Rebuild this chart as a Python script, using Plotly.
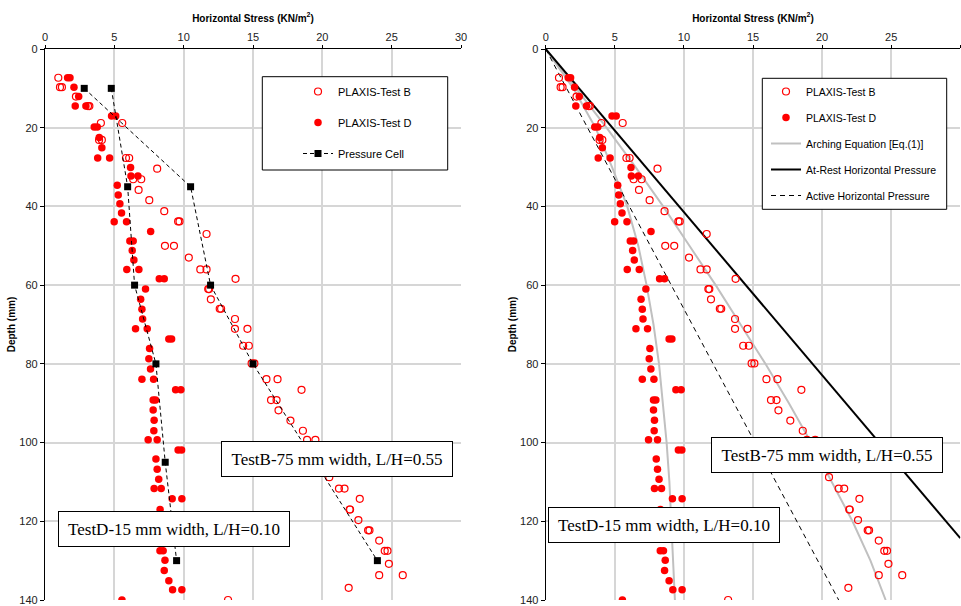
import plotly.graph_objects as go

# ---------------- data ----------------
# PLAXIS Test B (open circles): horizontal stress (kN/m2) vs depth (mm)
testB_stress = [0.96, 1.08, 1.22, 2.23, 3.1, 3.2, 4.03, 5.57, 3.9, 4.1, 5.84, 6.07, 8.09, 6.36, 6.94,
                6.75, 7.52, 8.6, 9.6, 9.7, 11.65, 8.65, 9.3, 10.37, 11.2, 11.65, 13.74, 11.77, 11.84,
                11.96, 12.6, 12.7, 13.7, 13.7, 14.6, 14.29, 14.7, 14.9, 15.1, 15.97, 16.77, 18.5,
                16.3, 16.7, 16.84, 17.7, 18.6, 18.9, 19.5, 20.5, 21.2, 21.6, 22.7, 21.97, 22.0,
                22.6, 23.3, 23.4, 24.1, 24.5, 24.7, 24.8, 24.1, 25.8, 21.9, 13.2]
testB_depth = [7.3, 9.7, 9.7, 12.1, 14.5, 14.5, 18.8, 18.8, 23.1, 23.1, 27.7, 27.7, 30.4, 33.1, 33.1,
               35.8, 38.4, 41.2, 43.8, 43.8, 47.0, 50.0, 50.0, 53.0, 56.0, 56.0, 58.4, 61.0, 61.0,
               63.6, 66.0, 66.0, 68.6, 71.1, 71.1, 75.4, 75.4, 79.9, 79.9, 83.9, 83.9, 86.6,
               89.2, 89.2, 91.8, 94.4, 97.0, 99.3, 99.3, 108.8, 111.7, 111.7, 114.3, 117.0, 117.0,
               119.7, 122.3, 122.3, 124.9, 127.5, 127.5, 130.8, 133.7, 133.7, 136.9, 140.0]

# PLAXIS Test D (filled circles)
testD_stress = [1.63, 1.8, 2.09, 2.43, 2.18, 2.95, 4.8, 5.1, 3.55, 3.77, 3.91, 4.1, 3.8, 4.66, 6.17,
                6.2, 6.7, 5.21, 5.28, 5.4, 5.52, 4.99, 5.88, 7.62, 6.12, 6.36, 6.29, 6.41, 5.9, 6.77,
                8.24, 8.6, 7.25, 6.9, 6.99, 7.04, 6.53, 7.37, 8.93, 9.13, 7.54, 7.49, 7.61, 6.99,
                7.83, 9.42, 9.8, 7.8, 7.97, 7.8, 7.87, 7.85, 7.44, 8.09, 9.6, 9.85, 8.0, 8.09, 8.2,
                7.87, 8.38, 9.17, 9.87, 8.3, 8.29, 8.52, 8.65, 8.6, 8.93, 9.2, 9.87, 5.55]
testD_depth = [7.3, 7.3, 9.7, 12.1, 14.5, 14.5, 17.0, 17.0, 19.8, 19.8, 22.5, 25.1, 27.7, 27.7, 30.1,
               32.3, 32.3, 34.6, 37.1, 39.3, 41.7, 43.9, 43.9, 46.4, 48.8, 48.8, 51.2, 53.6, 56.0, 56.0,
               58.4, 58.4, 61.0, 63.6, 66.1, 68.6, 71.1, 71.1, 73.7, 73.7, 76.1, 78.7, 81.3, 83.9,
               83.9, 86.6, 86.6, 89.2, 89.2, 91.7, 94.3, 97.0, 99.3, 99.3, 101.9, 101.9, 104.2, 106.8, 109.3,
               111.7, 111.7, 114.3, 114.3, 117.0, 127.5, 127.5, 129.9, 132.5, 135.1, 137.4, 137.4, 140.0]

# Pressure cells
cellB_stress = [2.83, 10.5, 11.94, 15.0, 23.97]
cellB_depth = [10, 35, 60, 80, 130]
cellD_stress = [4.78, 5.96, 6.46, 8.0, 8.67, 9.49]
cellD_depth = [10, 35, 60, 80, 105, 130]

# Arching equation curves
arch_depth = [0, 10, 20, 30, 40, 50, 60, 70, 80, 90, 100, 110, 120, 130, 140]
archB_stress = [0, 2.2, 4.4, 6.5, 8.5, 10.4, 12.3, 14.1, 15.9, 17.6, 19.2, 20.7, 22.2, 23.5, 24.6]
archD_stress = [0, 2.0, 3.6, 4.8, 5.9, 6.7, 7.3, 7.8, 8.2, 8.5, 8.75, 8.95, 9.1, 9.25, 9.35]

# At-rest and active horizontal pressure lines
atrest_stress = [0, 30.0]
atrest_depth = [0, 124.3]
active_stress = [0, 21.2]
active_depth = [0, 140]

x_ticks = [0, 5, 10, 15, 20, 25, 30]
y_ticks = [0, 20, 40, 60, 80, 100, 120, 140]

x_title = "<b>Horizontal Stress (KN/m<sup>2</sup>)</b>"
y_title = "<b>Depth (mm)</b>"
boxB_text = "TestB-75 mm width, L/H=0.55"
boxD_text = "TestD-15 mm width, L/H=0.10"

# ---------------- figure ----------------
W, H = 961, 606
RED = "#ff0000"
SANS = "Liberation Sans, Arial, sans-serif"
SERIF = "Liberation Serif, Times New Roman, serif"


def px(p):
    return p / W


def py(p):
    return 1 - p / H


fig = go.Figure()

# ---- left panel ----
fig.add_trace(go.Scatter(x=testB_stress, y=testB_depth, mode="markers", name="PLAXIS-Test B",
                         marker=dict(symbol="circle-open", size=7, color=RED, line=dict(width=1.2)),
                         xaxis="x", yaxis="y", legend="legend", legendgroup="a1"))
fig.add_trace(go.Scatter(x=testD_stress, y=testD_depth, mode="markers", name="PLAXIS-Test D",
                         marker=dict(symbol="circle", size=7.5, color=RED),
                         xaxis="x", yaxis="y", legend="legend", legendgroup="a2"))
fig.add_trace(go.Scatter(x=cellB_stress, y=cellB_depth, mode="lines+markers", name="Pressure Cell",
                         line=dict(color="black", width=1, dash="4px,3px"),
                         marker=dict(symbol="square", size=7, color="black"),
                         xaxis="x", yaxis="y", legend="legend", legendgroup="a3"))
fig.add_trace(go.Scatter(x=cellD_stress, y=cellD_depth, mode="lines+markers", name="Pressure Cell",
                         line=dict(color="black", width=1, dash="4px,3px"),
                         marker=dict(symbol="square", size=7, color="black"),
                         xaxis="x", yaxis="y", showlegend=False, legendgroup="a3"))

# ---- right panel ----
fig.add_trace(go.Scatter(x=archB_stress, y=arch_depth, mode="lines", name="Arching Equation [Eq.(1)]",
                         line=dict(color="#c0c0c0", width=2), xaxis="x2", yaxis="y2",
                         legend="legend2", legendgroup="b3", legendrank=3))
fig.add_trace(go.Scatter(x=archD_stress, y=arch_depth, mode="lines", name="Arching Equation [Eq.(1)]",
                         line=dict(color="#c0c0c0", width=2), xaxis="x2", yaxis="y2",
                         showlegend=False, legendgroup="b3"))
fig.add_trace(go.Scatter(x=atrest_stress, y=atrest_depth, mode="lines", name="At-Rest Horizontal Pressure",
                         line=dict(color="black", width=2), xaxis="x2", yaxis="y2",
                         legend="legend2", legendgroup="b4", legendrank=4))
fig.add_trace(go.Scatter(x=active_stress, y=active_depth, mode="lines", name="Active Horizontal Pressure",
                         line=dict(color="black", width=1, dash="5px,4px"), xaxis="x2", yaxis="y2",
                         legend="legend2", legendgroup="b5", legendrank=5))
fig.add_trace(go.Scatter(x=testB_stress, y=testB_depth, mode="markers", name="PLAXIS-Test B",
                         marker=dict(symbol="circle-open", size=7, color=RED, line=dict(width=1.2)),
                         xaxis="x2", yaxis="y2", legend="legend2", legendgroup="b1", legendrank=1))
fig.add_trace(go.Scatter(x=testD_stress, y=testD_depth, mode="markers", name="PLAXIS-Test D",
                         marker=dict(symbol="circle", size=7.5, color=RED),
                         xaxis="x2", yaxis="y2", legend="legend2", legendgroup="b2", legendrank=2))

ydom = [py(600), py(49)]
xa_common = dict(range=[0, 30], tickvals=x_ticks, side="top", showgrid=True, gridcolor="#d6d6d6",
                 gridwidth=1.5, showline=True, linecolor="black", linewidth=1.2, ticks="outside",
                 ticklen=3, tickcolor="black", zeroline=False, automargin=False,
                 tickfont=dict(family=SANS, size=11, color="#222"),
                 title=dict(text=x_title, font=dict(family=SANS, size=10, color="black"), standoff=6))
ya_common = dict(range=[140, 0], tickvals=y_ticks, showgrid=True, gridcolor="#d6d6d6", gridwidth=1.5,
                 showline=True, linecolor="black", linewidth=1.2, ticks="outside", ticklen=4,
                 tickcolor="black", zeroline=False, domain=ydom, automargin=False,
                 tickfont=dict(family=SANS, size=11, color="#222"),
                 title=dict(text=y_title, font=dict(family=SANS, size=10, color="black"), standoff=1))

fig.update_layout(
    template="none",
    width=W, height=H, margin=dict(l=0, r=0, t=0, b=0, autoexpand=False),
    paper_bgcolor="white", plot_bgcolor="white",
    font=dict(family=SANS, size=11, color="black"),
    xaxis=dict(domain=[px(45), px(461)], anchor="y", **xa_common),
    yaxis=dict(anchor="x", **ya_common),
    xaxis2=dict(domain=[px(545.7), px(960.3)], anchor="y2", **xa_common),
    yaxis2=dict(anchor="x2", **ya_common),
    legend=dict(x=px(298), y=py(77), xanchor="left", yanchor="top", bgcolor="rgba(0,0,0,0)",
                borderwidth=0, font=dict(family=SANS, size=11, color="black"),
                tracegroupgap=12, traceorder="grouped"),
    legend2=dict(x=px(766), y=py(77), xanchor="left", yanchor="top", bgcolor="rgba(0,0,0,0)",
                 borderwidth=0, font=dict(family=SANS, size=10.5, color="black"),
                 tracegroupgap=7, traceorder="grouped"),
    showlegend=True,
)

# legend frames
fig.add_shape(type="rect", xref="paper", yref="paper", x0=px(262.3), x1=px(447.7), y0=py(170), y1=py(76.7),
              line=dict(color="black", width=1), fillcolor="white", layer="above")
fig.add_shape(type="rect", xref="paper", yref="paper", x0=px(762.3), x1=px(946.7), y0=py(209.3), y1=py(78.3),
              line=dict(color="black", width=1), fillcolor="white", layer="above")


# text boxes
def box(text, left, top):
    fig.add_annotation(text=text, xref="paper", yref="paper", x=px(left), y=py(top),
                       xanchor="left", yanchor="top", showarrow=False, width=230, height=34,
                       bordercolor="black", borderwidth=1, borderpad=0, bgcolor="white",
                       font=dict(family=SERIF, size=17, color="black"), align="center", valign="middle")


box(boxB_text, 221, 441)
box(boxD_text, 57.7, 511)
box(boxB_text, 711, 437.3)
box(boxD_text, 548.3, 507.3)

fig.write_html("out.html", config={"displayModeBar": False},
               post_script="document.body.style.margin='0';")
